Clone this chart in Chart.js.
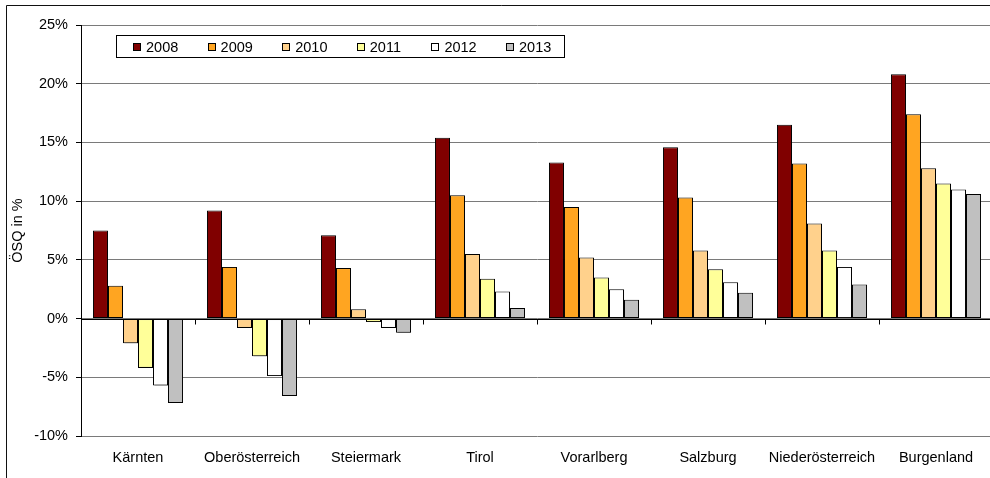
<!DOCTYPE html>
<html>
<head>
<meta charset="utf-8">
<script src="https://cdn.jsdelivr.net/npm/chart.js@4.4.1/dist/chart.umd.min.js"></script>
<style>
  html, body { margin: 0; padding: 0; background: #fff; overflow: hidden; }
  #wrap { width: 996px; height: 478px; position: relative; }
</style>
</head>
<body>
<div id="wrap"><canvas id="c" width="996" height="478"></canvas></div>
<script>
// Bundesländer, ÖSQ-Abweichung in Prozent je Jahr
const categories = ['Kärnten', 'Oberösterreich', 'Steiermark', 'Tirol', 'Vorarlberg', 'Salzburg', 'Niederösterreich', 'Burgenland'];
const years = ['2008', '2009', '2010', '2011', '2012', '2013'];

const v2008 = [7.5, 9.2, 7.1, 15.4, 13.3, 14.6, 16.5, 20.8];
const v2009 = [2.8, 4.4, 4.3, 10.5, 9.5, 10.3, 13.2, 17.4];
const v2010 = [-2.1, -0.8, 0.8, 5.5, 5.2, 5.8, 8.1, 12.8];
const v2011 = [-4.2, -3.2, -0.3, 3.4, 3.5, 4.2, 5.8, 11.5];
const v2012 = [-5.7, -4.9, -0.8, 2.3, 2.5, 3.1, 4.4, 11.0];
const v2013 = [-7.2, -6.6, -1.2, 0.9, 1.6, 2.2, 2.9, 10.6];

const yTicks = [-10, -5, 0, 5, 10, 15, 20, 25];

const seriesValues = [v2008, v2009, v2010, v2011, v2012, v2013];
const seriesColors = ['#800000', '#FFA521', '#FFD18C', '#FFFF99', '#FFFFFF', '#C0C0C0'];

const FONT = 'Liberation Sans, Arial, sans-serif';
const FONT_SIZE = 14.5;

// outer frame of the chart object
const framePlugin = {
  id: 'frame',
  beforeDraw(chart) {
    const ctx = chart.ctx;
    ctx.save();
    ctx.fillStyle = '#fff';
    ctx.fillRect(0, 0, chart.width, chart.height);
    ctx.strokeStyle = '#111';
    ctx.lineWidth = 1;
    ctx.beginPath();
    ctx.moveTo(6.5, chart.height);
    ctx.lineTo(6.5, 5.5);
    ctx.lineTo(chart.width, 5.5);
    ctx.stroke();
    ctx.restore();
  }
};

// light drop shadow under the bars
const shadowPlugin = {
  id: 'barShadow',
  beforeDatasetsDraw(chart) {
    const ctx = chart.ctx;
    ctx.save();
    ctx.shadowColor = 'rgba(0,0,0,0.35)';
    ctx.shadowOffsetX = 1.5;
    ctx.shadowOffsetY = 1.5;
    ctx.shadowBlur = 0;
  },
  afterDatasetsDraw(chart) {
    chart.ctx.restore();
  }
};

// zero line with category tick marks
const zeroAxisPlugin = {
  id: 'zeroAxis',
  afterDatasetsDraw(chart) {
    const ctx = chart.ctx;
    const x = chart.scales.x;
    const y = chart.scales.y;
    const y0 = Math.round(y.getPixelForValue(0)) + 0.5;
    const step = x.getPixelForValue(1) - x.getPixelForValue(0);
    ctx.save();
    ctx.strokeStyle = '#000';
    ctx.lineWidth = 1;
    ctx.beginPath();
    ctx.moveTo(chart.chartArea.left, y0);
    ctx.lineTo(chart.chartArea.right, y0);
    const n = categories.length;
    for (let i = 0; i <= n; i++) {
      const px = Math.round(i < n ? x.getPixelForValue(i) - step / 2 : chart.chartArea.right) + 0.5;
      ctx.moveTo(px, y0);
      ctx.lineTo(px, y0 + 5);
    }
    ctx.stroke();
    ctx.restore();
  }
};

// boxed legend inside the plot area
const boxLegendPlugin = {
  id: 'boxLegend',
  afterDraw(chart) {
    const ctx = chart.ctx;
    const bx = 116.5, by = 35.5, bw = 448, bh = 22;
    ctx.save();
    ctx.fillStyle = '#fff';
    ctx.fillRect(bx, by, bw, bh);
    ctx.strokeStyle = '#000';
    ctx.lineWidth = 1;
    ctx.strokeRect(bx, by, bw, bh);
    ctx.font = FONT_SIZE + 'px ' + FONT;
    ctx.textBaseline = 'middle';
    ctx.textAlign = 'left';
    chart.data.datasets.forEach((ds, i) => {
      const sx = 133 + i * 74.6;
      const sy = by + bh / 2;
      ctx.fillStyle = ds.backgroundColor;
      ctx.fillRect(Math.round(sx) + 0.5, Math.round(sy - 4) + 0.5, 7, 7);
      ctx.strokeStyle = '#000';
      ctx.strokeRect(Math.round(sx) + 0.5, Math.round(sy - 4) + 0.5, 7, 7);
      ctx.fillStyle = '#000';
      ctx.fillText(ds.label, sx + 13, sy + 1);
    });
    ctx.restore();
  }
};

new Chart(document.getElementById('c'), {
  type: 'bar',
  data: {
    labels: categories,
    datasets: years.map((yr, i) => ({
      label: yr,
      data: seriesValues[i],
      backgroundColor: seriesColors[i],
      borderColor: '#000',
      borderWidth: 1,
      borderSkipped: false,
      categoryPercentage: 0.79,
      barPercentage: 1.0
    }))
  },
  options: {
    responsive: false,
    animation: false,
    devicePixelRatio: 1,
    layout: { padding: { top: 25, right: 3, left: 0, bottom: 0 } },
    plugins: {
      legend: { display: false },
      tooltip: { enabled: false }
    },
    scales: {
      x: {
        grid: { display: false, drawTicks: false },
        border: { display: false },
        ticks: { color: '#000', font: { family: FONT, size: FONT_SIZE }, padding: 13, maxRotation: 0, autoSkip: false },
        afterFit(scale) { scale.height = 42; }
      },
      y: {
        min: -10,
        max: 25,
        afterBuildTicks(scale) { scale.ticks = yTicks.map(v => ({ value: v })); },
        grid: { color: '#7a7a7a', tickColor: '#000', tickLength: 5, lineWidth: 1 },
        border: { color: '#000', width: 1 },
        ticks: {
          color: '#000',
          font: { family: FONT, size: FONT_SIZE },
          padding: 8,
          callback: v => v + '%'
        },
        title: {
          display: true,
          text: 'ÖSQ in %',
          color: '#000',
          font: { family: FONT, size: FONT_SIZE },
          padding: { top: 9, bottom: 0 }
        },
        afterFit(scale) { scale.width = 81; }
      }
    }
  },
  plugins: [framePlugin, shadowPlugin, zeroAxisPlugin, boxLegendPlugin]
});
</script>
</body>
</html>
